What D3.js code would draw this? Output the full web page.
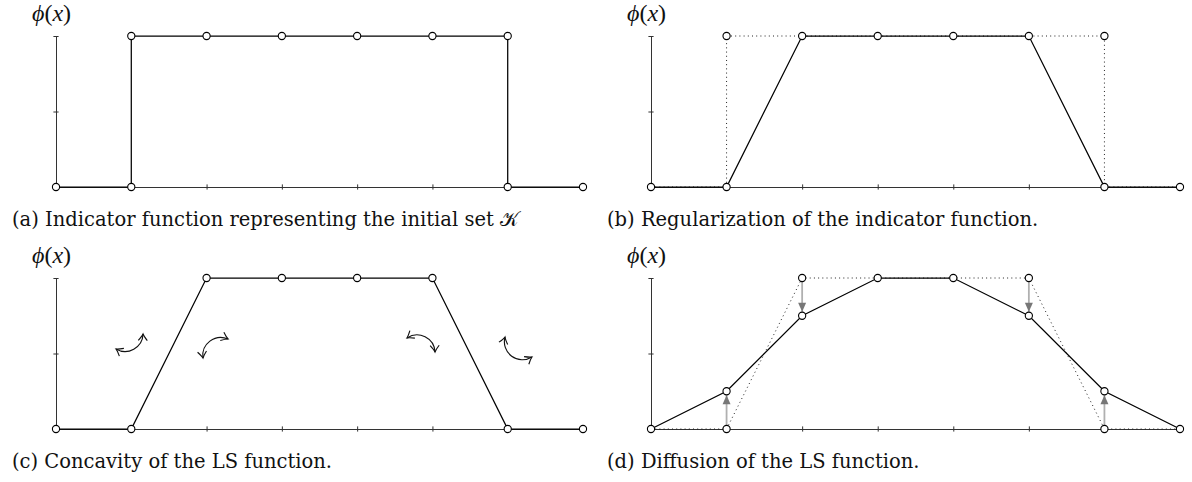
<!DOCTYPE html>
<html>
<head>
<meta charset="utf-8">
<script src="https://cdn.jsdelivr.net/npm/d3@7"></script>
<style>
  html, body { margin: 0; padding: 0; background: #fff; }
  svg { display: block; }
  .caption { font-family: "DejaVu Serif", serif; font-size: 19.5px; fill: #111; }
  .ylabel { font-family: "Liberation Serif", "DejaVu Serif", serif; font-style: italic; font-size: 24px; fill: #111; }
</style>
</head>
<body>
<svg id="chart" width="1192" height="482"></svg>
<script>
// Grid nodes along x
const nodes = [0, 1, 2, 3, 4, 5, 6, 7];
const yTicks = [0, 0.5, 1];

// Indicator function of the initial set (with vertical jumps)
const indicatorX = [0, 1, 1, 2, 3, 4, 5, 6, 6, 7];
const indicatorY = [0, 0, 1, 1, 1, 1, 1, 1, 0, 0];

// Regularized level-set function
const regularized = [0, 0, 1, 1, 1, 1, 0, 0];

// Level-set function after one diffusion step
const diffused = [0, 0.25, 0.75, 1, 1, 0.75, 0.25, 0];

// Concavity arrows in panel (c): start / end in data units, arc direction
const concStartX = [0.797, 1.952, 4.662, 5.964];
const concStartY = [0.530, 0.470, 0.603, 0.609];
const concEndX   = [1.156, 2.285, 5.034, 6.322];
const concEndY   = [0.629, 0.596, 0.510, 0.477];
const concSweep  = [0, 1, 1, 0];

const captions = [
  "(a) Indicator function representing the initial set \u{1D4A6}",
  "(b) Regularization of the indicator function.",
  "(c) Concavity of the LS function.",
  "(d) Diffusion of the LS function."
];

const svg = d3.select("#chart");
const defs = svg.append("defs");

defs.append("marker")
  .attr("id", "openHead")
  .attr("markerUnits", "userSpaceOnUse")
  .attr("viewBox", "-8 -6 10 12")
  .attr("markerWidth", 10).attr("markerHeight", 12)
  .attr("refX", 0).attr("refY", 0)
  .attr("orient", "auto-start-reverse")
  .append("path")
  .attr("d", "M-6.5,-4.5 Q-2.2,-0.9 0,0 Q-2.2,0.9 -6.5,4.5")
  .attr("fill", "none").attr("stroke", "#111").attr("stroke-width", 1.15);

defs.append("marker")
  .attr("id", "grayHead")
  .attr("markerUnits", "userSpaceOnUse")
  .attr("viewBox", "-10 -5 11 10")
  .attr("markerWidth", 11).attr("markerHeight", 10)
  .attr("refX", 0).attr("refY", 0)
  .attr("orient", "auto")
  .append("path")
  .attr("d", "M-9,-4 L0,0 L-9,4 Z")
  .attr("fill", "#777");

const panels = [
  { key: "a", left: 56,  right: 583,  top: 36,  bottom: 187 },
  { key: "b", left: 651, right: 1180, top: 36,  bottom: 187 },
  { key: "c", left: 56,  right: 583,  top: 278, bottom: 429 },
  { key: "d", left: 651, right: 1180, top: 278, bottom: 429 }
];

const R = 3.6;

panels.forEach((p, i) => {
  const g = svg.append("g");
  const x = d3.scaleLinear().domain([0, 7]).range([p.left, p.right]);
  const y = d3.scaleLinear().domain([0, 1]).range([p.bottom, p.top]);

  // axes
  const xa = g.append("g").attr("transform", `translate(0,${p.bottom})`)
    .call(d3.axisBottom(x).tickValues(nodes).tickSize(2.6).tickSizeOuter(0).tickFormat(""));
  xa.selectAll(".tick line").attr("y1", -2.6);
  const ya = g.append("g").attr("transform", `translate(${p.left},0)`)
    .call(d3.axisLeft(y).tickValues(yTicks).tickSize(2.6).tickSizeOuter(0).tickFormat(""));
  ya.selectAll(".tick line").attr("x1", 2.6);
  g.selectAll(".domain, .tick line").attr("stroke", "#333").attr("stroke-width", 1);

  const line = d3.line().x(d => x(d[0])).y(d => y(d[1]));
  const indicatorPts = indicatorX.map((v, k) => [v, indicatorY[k]]);
  const regPts = nodes.map((v, k) => [v, regularized[k]]);
  const diffPts = nodes.map((v, k) => [v, diffused[k]]);

  let solid, dotted = null;
  if (p.key === "a") solid = indicatorPts;
  if (p.key === "b") { solid = regPts; dotted = indicatorPts; }
  if (p.key === "c") solid = regPts;
  if (p.key === "d") { solid = diffPts; dotted = regPts; }

  if (dotted) {
    g.append("path").attr("d", line(dotted))
      .attr("fill", "none").attr("stroke", "#222").attr("stroke-width", 1)
      .attr("stroke-dasharray", "1,3.2");
  }

  // diffusion arrows
  if (p.key === "d") {
    nodes.forEach((n, k) => {
      const a = regularized[k], b = diffused[k];
      if (a === b) return;
      const dir = b > a ? -1 : 1; // screen direction of travel
      g.append("line")
        .attr("x1", x(n)).attr("x2", x(n))
        .attr("y1", y(a)).attr("y2", y(b) - dir * (R + 0.3))
        .attr("stroke", "#b0b0b0").attr("stroke-width", 1.8)
        .attr("marker-end", "url(#grayHead)");
    });
  }

  g.append("path").attr("d", line(solid))
    .attr("fill", "none").attr("stroke", "#000").attr("stroke-width", 1.25);

  // concavity arrows
  if (p.key === "c") {
    concStartX.forEach((sx, k) => {
      const x0 = x(sx), y0 = y(concStartY[k]);
      const x1 = x(concEndX[k]), y1 = y(concEndY[k]);
      g.append("path")
        .attr("d", `M${x0},${y0} A18,18 0 0 ${concSweep[k]} ${x1},${y1}`)
        .attr("fill", "none").attr("stroke", "#111").attr("stroke-width", 1.15)
        .attr("marker-start", "url(#openHead)")
        .attr("marker-end", "url(#openHead)");
    });
  }

  // node circles
  const pts = solid.concat(dotted || []);
  const seen = new Set();
  const uniq = pts.filter(d => { const k = d[0] + "," + d[1]; if (seen.has(k)) return false; seen.add(k); return true; });
  g.selectAll("circle.node").data(uniq).join("circle")
    .attr("class", "node")
    .attr("cx", d => x(d[0])).attr("cy", d => y(d[1])).attr("r", R)
    .attr("fill", "#fff").attr("stroke", "#000").attr("stroke-width", 1.1);

  // labels
  const lab = g.append("text").attr("class", "ylabel")
    .attr("x", p.left - 24).attr("y", p.top - 15);
  lab.append("tspan").text("\u03D5");
  lab.append("tspan").attr("font-style", "normal").text("(");
  lab.append("tspan").text("x");
  lab.append("tspan").attr("font-style", "normal").text(")");

  g.append("text").attr("class", "caption")
    .attr("x", p.left - 44).attr("y", p.bottom + 39)
    .text(captions[i]);
});
</script>
</body>
</html>
